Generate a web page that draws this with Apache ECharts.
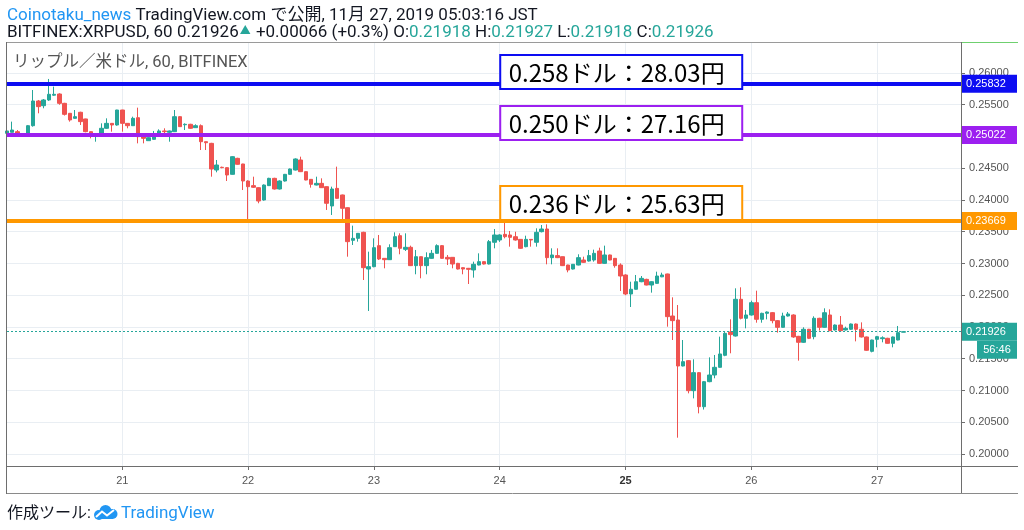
<!DOCTYPE html>
<html><head><meta charset="utf-8">
<script src="https://cdn.jsdelivr.net/npm/echarts@6/dist/echarts.min.js"></script>
<style>html,body{margin:0;padding:0;background:#fff}#c{width:1024px;height:530px}</style>
</head><body><div id="c"></div>
<script>
// ---- data ----
const slotCount = 183; // hourly slots on the axis, starting 2019-11-20 02:00
const opens = [0.25050,0.25066,0.25076,0.25024,0.25008,0.25170,0.25559,0.25485,0.25575,0.25650,0.25669,0.25522,0.25365,0.25286,0.25381,0.25276,0.25076,0.25008,0.25008,0.25129,0.25207,0.25181,0.25417,0.25207,
0.25170,0.25296,0.24997,0.24934,0.24955,0.25024,0.25087,0.25066,0.25076,0.25312,0.25185,0.25192,0.25139,0.25170,0.24918,0.24892,0.24472,0.24515,0.24509,0.24404,0.24656,0.24567,
0.24299,0.24226,0.24194,0.24000,0.24226,0.24341,0.24173,0.24299,0.24404,0.24472,0.24630,0.24446,0.24325,0.24236,0.24262,0.24210,0.23906,0.24183,0.24079,0.23879,0.23365,0.23396,0.23491,0.22913,
0.22950,0.23281,0.23081,0.23060,0.23265,0.23438,0.23223,0.23255,0.22966,0.23107,0.22966,0.23081,0.23160,0.23281,0.23097,0.23097,0.23002,0.22934,0.22924,0.22898,0.22976,0.23029,0.22992,0.23334,
0.23370,0.23459,0.23449,0.23422,0.23380,0.23265,0.23380,0.23334,0.23501,0.23543,0.23092,0.23124,0.23107,0.22976,0.22913,0.22976,0.23055,0.23039,0.23055,0.23197,0.23002,0.23134,0.23081,0.22976,
0.22819,0.22520,0.22594,0.22713,0.22750,0.22661,0.22687,0.22790,0.22835,0.22173,0.22110,0.21386,0.21470,0.20997,0.21281,0.20745,0.21139,0.21244,0.21365,0.21554,0.21920,0.21858,0.22436,0.22137,
0.22189,0.22383,0.22121,0.22215,0.22226,0.22100,0.21995,0.22173,0.22189,0.21853,0.21759,0.21964,0.21848,0.22137,0.21995,0.22189,0.21953,0.22031,0.21953,0.21964,0.22047,0.21964,0.21843,0.21617,
0.21806,0.21816,0.21822,0.21743,0.21795,0.21918];
const closes = [0.25087,0.25102,0.25024,0.25015,0.25170,0.25559,0.25470,0.25575,0.25664,0.25664,0.25522,0.25349,0.25260,0.25312,0.25234,0.25076,0.25008,0.25015,0.25129,0.25207,0.25181,0.25417,0.25207,0.25170,
0.25286,0.24997,0.24971,0.24981,0.25034,0.25087,0.25076,0.25087,0.25312,0.25155,0.25192,0.25129,0.25170,0.24918,0.24902,0.24488,0.24551,0.24509,0.24394,0.24682,0.24562,0.24299,
0.24210,0.24200,0.23984,0.24236,0.24341,0.24173,0.24299,0.24404,0.24488,0.24646,0.24446,0.24315,0.24247,0.24262,0.24194,0.23948,0.24173,0.24026,0.23869,0.23344,0.23396,0.23475,0.22934,0.22950,
0.23249,0.23071,0.23060,0.23249,0.23422,0.23239,0.23255,0.22966,0.23107,0.22966,0.23092,0.23160,0.23281,0.23081,0.23071,0.22992,0.22913,0.22913,0.22908,0.22987,0.23029,0.22992,0.23344,0.23449,
0.23449,0.23422,0.23412,0.23370,0.23239,0.23380,0.23370,0.23491,0.23543,0.23092,0.23134,0.23092,0.22966,0.22898,0.22987,0.23092,0.23018,0.23124,0.23160,0.23002,0.23134,0.23055,0.22966,0.22803,
0.22520,0.22594,0.22713,0.22766,0.22661,0.22713,0.22803,0.22819,0.22163,0.22100,0.21386,0.21454,0.20997,0.21281,0.20745,0.21139,0.21244,0.21365,0.21575,0.21900,0.21880,0.22436,0.22137,0.22189,
0.22383,0.22121,0.22215,0.22236,0.22100,0.21995,0.22173,0.22205,0.21843,0.21759,0.21964,0.21822,0.22137,0.21995,0.22225,0.21942,0.22031,0.21942,0.21979,0.22047,0.21964,0.21843,0.21633,0.21795,
0.21848,0.21830,0.21743,0.21843,0.21911,0.21926];
const lows = [0.24839,0.25066,0.25008,0.24997,0.24997,0.25155,0.25365,0.25444,0.25560,0.25640,0.25500,0.25330,0.25234,0.25280,0.25181,0.25066,0.24971,0.24918,0.25000,0.25120,0.25076,0.25170,0.25076,0.25129,
0.25165,0.24892,0.24892,0.24930,0.24950,0.25020,0.25034,0.24918,0.25070,0.25150,0.25102,0.25120,0.25135,0.24787,0.24787,0.24367,0.24436,0.24500,0.24299,0.24400,0.24555,0.24157,
0.23685,0.24190,0.23948,0.23990,0.24220,0.24165,0.24165,0.24290,0.24395,0.24465,0.24440,0.24310,0.24194,0.24230,0.24190,0.23843,0.23764,0.24020,0.23685,0.23107,0.23291,0.23344,0.22740,0.22252,
0.22940,0.23055,0.22924,0.23055,0.23260,0.23145,0.23197,0.22960,0.22830,0.22767,0.22830,0.23075,0.23155,0.23075,0.22976,0.22924,0.22905,0.22830,0.22677,0.22777,0.22970,0.22985,0.22985,0.23239,
0.23340,0.23396,0.23265,0.23360,0.23230,0.23255,0.23265,0.23265,0.23490,0.22987,0.22987,0.23085,0.22960,0.22861,0.22905,0.22970,0.23010,0.23030,0.23029,0.22995,0.22995,0.23050,0.22934,0.22567,
0.22500,0.22315,0.22590,0.22705,0.22655,0.22541,0.22680,0.22785,0.22005,0.21795,0.20257,0.21380,0.20955,0.20876,0.20640,0.20700,0.21130,0.21192,0.21360,0.21540,0.21586,0.21850,0.22120,0.21979,
0.22180,0.22068,0.22068,0.22120,0.22058,0.21911,0.21990,0.22165,0.21830,0.21470,0.21750,0.21810,0.21806,0.21943,0.21990,0.21935,0.21945,0.21935,0.21945,0.21955,0.21774,0.21835,0.21625,0.21601,
0.21680,0.21759,0.21738,0.21680,0.21790,0.21918];
const highs = [0.25100,0.25234,0.25102,0.25030,0.25181,0.25732,0.25575,0.25590,0.25906,0.25785,0.25680,0.25530,0.25370,0.25417,0.25390,0.25280,0.25080,0.25030,0.25207,0.25286,0.25210,0.25420,0.25420,0.25210,
0.25312,0.25454,0.25000,0.24990,0.25087,0.25113,0.25129,0.25095,0.25417,0.25320,0.25207,0.25200,0.25192,0.25190,0.24920,0.24900,0.24630,0.24525,0.24515,0.24690,0.24665,0.24570,
0.24310,0.24367,0.24200,0.24245,0.24350,0.24350,0.24310,0.24410,0.24495,0.24656,0.24682,0.24450,0.24330,0.24367,0.24341,0.24215,0.24210,0.24525,0.24085,0.23885,0.23596,0.23480,0.23500,0.23186,
0.23396,0.23449,0.23085,0.23302,0.23491,0.23475,0.23475,0.23281,0.23213,0.23110,0.23176,0.23213,0.23302,0.23290,0.23134,0.23100,0.23010,0.22940,0.22930,0.23029,0.23160,0.23035,0.23370,0.23543,
0.23460,0.23685,0.23512,0.23500,0.23385,0.23438,0.23385,0.23554,0.23606,0.23617,0.23239,0.23239,0.23110,0.22980,0.22990,0.23145,0.23107,0.23213,0.23218,0.23249,0.23281,0.23140,0.23085,0.23002,
0.22830,0.22713,0.22819,0.22803,0.22760,0.22720,0.22871,0.22855,0.22840,0.22467,0.22346,0.21795,0.21480,0.21491,0.21290,0.21150,0.21522,0.21559,0.21848,0.21920,0.22121,0.22609,0.22625,0.22268,
0.22415,0.22572,0.22225,0.22245,0.22236,0.22110,0.22225,0.22236,0.22200,0.21860,0.21995,0.21970,0.22168,0.22145,0.22294,0.22278,0.22040,0.22173,0.22005,0.22055,0.22055,0.22073,0.21850,0.21800,
0.21860,0.21853,0.21830,0.21850,0.22016,0.21927];
const levelPrices = [0.25832, 0.25022, 0.23669];
const levelColors = ['#0d0df2', '#9c1ff0', '#ff9800'];
const annoTexts = ['0.258ドル：28.03円', '0.250ドル：27.16円', '0.236ドル：25.63円'];
const annoBottomPrices = [0.25748, 0.24945, 0.23685];
const annoStartIndex = 94;
const lastPrice = 0.21926;
const countdownText = '56:46';
const boldDay = '25';
const headerLine1 = ['Coinotaku_news', ' TradingView.com で公開, 11月 27, 2019 05:03:16 JST'];
const headerLine2 = 'BITFINEX:XRPUSD, 60 0.21926{s|▲} +0.00066 (+0.3%) O:{t|0.21918} H:{t|0.21927} L:{t|0.21918} C:{t|0.21926}';
const legendText = 'リップル／米ドル, 60, BITFINEX';

// ---- build ----
const categories = [];
for (let i = 0; i < slotCount; i++) {
  const d = new Date(Date.UTC(2019, 10, 20, 2 + i));
  categories.push(d.toISOString().slice(0, 16).replace('T', ' '));
}
const isMidnight = (idx, v) => String(v).endsWith('00:00');
const candles = opens.map((o, i) => [o, closes[i], lows[i], highs[i]]);

const UP = '#26a69a', DOWN = '#ef5350';
const AXFONT = '"Liberation Sans", Arial, sans-serif';
const UIFONT = 'Roboto, "Noto Sans CJK JP", sans-serif';

const chart = echarts.init(document.getElementById('c'));
const labelBox = (txt, color) => ({
  show: true, position: 'end', distance: 0, formatter: txt,
  backgroundColor: color, color: '#fff', fontSize: 11, fontFamily: AXFONT,
  padding: [3, 5, 3, 5], width: 46, lineHeight: 12
});
const markData = levelPrices.map((v, i) => ({
  yAxis: v,
  lineStyle: { color: levelColors[i], width: 4, type: 'solid', opacity: 1 },
  label: labelBox(v.toFixed(5), levelColors[i])
}));
markData.push({
  yAxis: lastPrice,
  lineStyle: { color: UP, width: 1, type: [2, 2], opacity: 1 },
  label: labelBox(lastPrice.toFixed(5), UP)
});

chart.setOption({
  animation: false,
  backgroundColor: '#fff',
  grid: { left: 7, right: 63, top: 42, bottom: 64, containLabel: false },
  xAxis: {
    type: 'category', data: categories, boundaryGap: false,
    axisLine: { show: true, lineStyle: { color: '#6e6e6e', width: 1 } },
    axisTick: { show: true, interval: isMidnight, length: 4, lineStyle: { color: '#6e6e6e' } },
    axisLabel: {
      interval: isMidnight, color: '#555', fontSize: 11, fontFamily: AXFONT, margin: 9,
      formatter: v => { const day = String(Number(v.slice(8, 10))); return day === boldDay ? '{b|' + day + '}' : day; },
      rich: { b: { fontWeight: 'bold', color: '#333', fontSize: 11, fontFamily: AXFONT } }
    },
    splitLine: { show: true, interval: isMidnight, lineStyle: { color: '#e9eef3', width: 1 } }
  },
  yAxis: {
    type: 'value', position: 'right', min: 0.19811, max: 0.26488, scale: true,
    splitNumber: 13, minInterval: 0.005, maxInterval: 0.005,
    axisLine: { show: false },
    axisTick: { show: true, length: 4, lineStyle: { color: '#6e6e6e' } },
    axisLabel: { color: '#555', fontSize: 11, fontFamily: AXFONT, margin: 8, showMinLabel: false, showMaxLabel: false,
      formatter: v => v.toFixed(5) },
    splitLine: { show: true, lineStyle: { color: '#e9eef3', width: 1 } }
  },
  series: [
    { type: 'candlestick', data: candles, barWidth: 4, clip: true,
      itemStyle: { color: UP, color0: DOWN, borderColor: UP, borderColor0: DOWN, borderWidth: 1 } },
    { type: 'line', data: [], clip: false, silent: true, z: 5,
      markLine: { symbol: ['none', 'none'], precision: 5, silent: true, animation: false, data: markData } }
  ]
});

// ---- overlays positioned through the chart's own scales ----
const px = (i, v) => chart.convertToPixel({ xAxisIndex: 0, yAxisIndex: 0 }, [i, v]);
const g = [];
const line = (x1, y1, x2, y2, c) => ({ type: 'line', z: 100, silent: true, shape: { x1, y1, x2, y2 }, style: { stroke: c, lineWidth: 1 } });
g.push(line(7, 42.5, 961, 42.5, '#9a9a9a'));
g.push(line(961, 42.5, 1018, 42.5, '#6fd06f'));
g.push(line(6.5, 42, 6.5, 494, '#6e6e6e'));
g.push(line(961.5, 42, 961.5, 494, '#6e6e6e'));
g.push(line(7, 466.5, 1018, 466.5, '#6e6e6e'));
g.push(line(7, 493.5, 1018, 493.5, '#8a8a8a'));

annoTexts.forEach((t, i) => {
  const p = px(annoStartIndex, annoBottomPrices[i]);
  g.push({ type: 'rect', z: 110, silent: true, shape: { x: p[0] + 0.5, y: p[1] - 34, width: 242, height: 34 },
    style: { fill: '#fff', stroke: levelColors[i], lineWidth: 2 } });
  g.push({ type: 'text', z: 111, silent: true, x: p[0] + 9, y: p[1] - 16,
    style: { text: t, fill: '#000', font: '24px "Noto Sans CJK JP", sans-serif', verticalAlign: 'middle', align: 'left' } });
});

const lp = px(0, lastPrice);
g.push({ type: 'rect', z: 110, silent: true, shape: { x: 977, y: lp[1] + 9, width: 40, height: 18 }, style: { fill: UP } });
g.push({ type: 'text', z: 111, silent: true, x: 997, y: lp[1] + 18,
  style: { text: countdownText, fill: '#fff', font: '11px ' + AXFONT, align: 'center', verticalAlign: 'middle' } });

g.push({ type: 'text', z: 120, silent: true, x: 7, y: 16,
  style: { text: '{a|' + headerLine1[0] + '}' + headerLine1[1], fill: '#131722', font: '17px ' + UIFONT, verticalAlign: 'middle',
    rich: { a: { fill: '#2196f3', font: '17px ' + UIFONT } } } });
g.push({ type: 'text', z: 120, silent: true, x: 7, y: 33,
  style: { text: headerLine2, fill: '#131722', font: '17px ' + UIFONT, verticalAlign: 'middle',
    rich: { t: { fill: '#26a69a', font: '17px ' + UIFONT }, s: { fill: '#26a69a', font: '11px ' + UIFONT, padding: [0, 1, 4, 1] } } } });
g.push({ type: 'text', z: 120, silent: true, x: 13, y: 63,
  style: { text: legendText, fill: '#555', font: '16.5px ' + UIFONT, verticalAlign: 'middle' } });

g.push({ type: 'text', z: 120, silent: true, x: 7, y: 514,
  style: { text: '作成ツール: ', fill: '#131722', font: '16px ' + UIFONT, verticalAlign: 'middle' } });
// TradingView cloud logo
[[7, 12, 5], [13.5, 8, 6], [20.5, 11, 5]].forEach(c => g.push({ type: 'circle', z: 120, silent: true, x: 92, y: 503,
  shape: { cx: c[0], cy: c[1], r: c[2] }, style: { fill: '#2196f3' } }));
g.push({ type: 'rect', z: 120, silent: true, x: 92, y: 503, shape: { x: 7, y: 11, width: 14, height: 5 }, style: { fill: '#2196f3' } });
g.push({ type: 'polyline', z: 121, silent: true, x: 92, y: 503,
  shape: { points: [[4, 14], [10, 8.5], [15, 12.5], [22, 7]] }, style: { stroke: '#fff', lineWidth: 2, fill: null } });
g.push({ type: 'text', z: 120, silent: true, x: 121, y: 514,
  style: { text: 'TradingView', fill: '#2196f3', font: '17px ' + UIFONT, verticalAlign: 'middle' } });

chart.setOption({ graphic: g });
</script></body></html>
